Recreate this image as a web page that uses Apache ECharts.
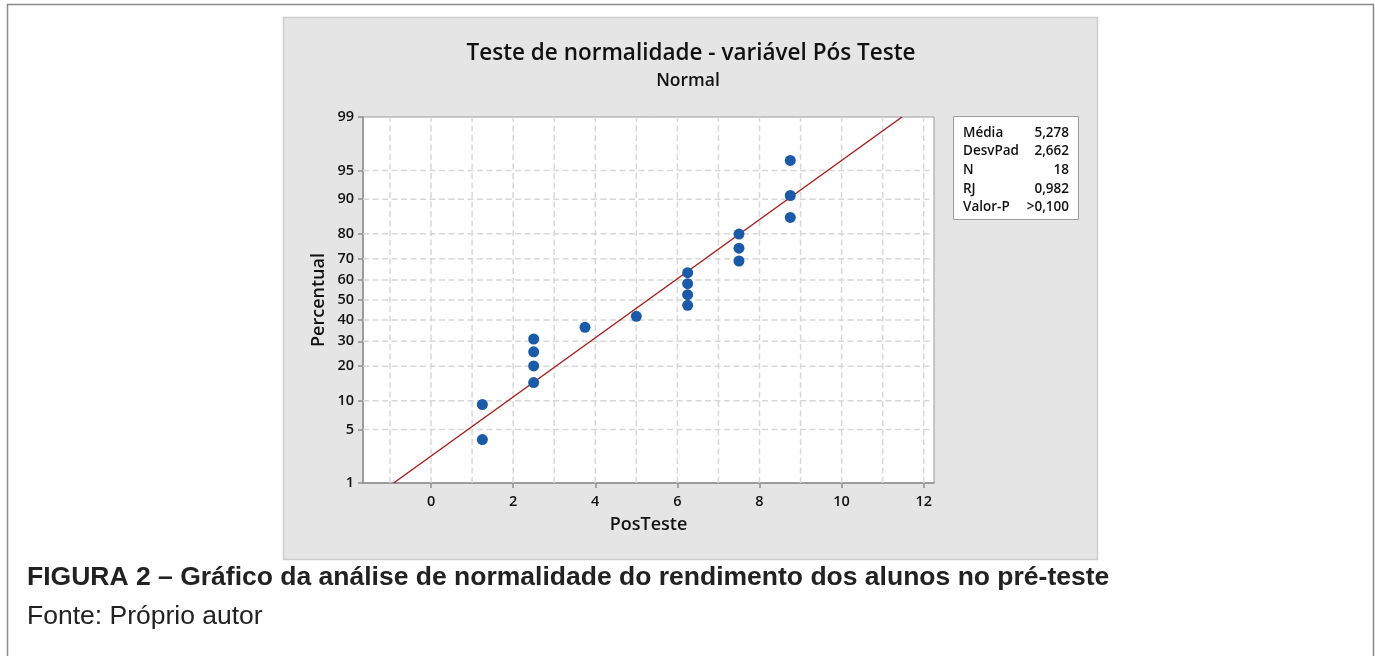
<!DOCTYPE html>
<html>
<head>
<meta charset="utf-8">
<script src="https://cdn.jsdelivr.net/npm/echarts@6/dist/echarts.min.js"></script>
<style>
  html, body { margin: 0; padding: 0; background: #fff; }
  #chart { width: 1375px; height: 656px; }
</style>
</head>
<body>
<div id="chart"></div>
<script>
// data
const posTeste = [1.25, 1.25, 2.5, 2.5, 2.5, 2.5, 3.75, 5, 6.25, 6.25, 6.25, 6.25, 7.5, 7.5, 7.5, 8.75, 8.75, 8.75]
const percentual = [3.8, 9.2, 14.7, 20.1, 25.5, 31.0, 36.4, 41.8, 47.3, 52.7, 58.2, 63.6, 69.0, 74.5, 79.9, 85.3, 90.8, 96.2]

// fitted line ends
const fitX = [-0.91, 11.47]
const fitPct = [1, 99]

// axis ticks
const pctTicks = [1, 5, 10, 20, 30, 40, 50, 60, 70, 80, 90, 95, 99]
const xTicks = [0, 2, 4, 6, 8, 10, 12]
const xGrid = [-1, 0, 1, 2, 3, 4, 5, 6, 7, 8, 9, 10, 11, 12]

const statNames = ['Média', 'DesvPad', 'N', 'RJ', 'Valor-P']
const statValues = ['5,278', '2,662', '18', '0,982', '>0,100']

// inverse normal cdf (Acklam) -> probability scale
function probit(p) {
  const a = [-39.69683028665376, 220.9460984245205, -275.9285104469687, 138.3577518672690, -30.66479806614716, 2.506628277459239]
  const b = [-54.47609879822406, 161.5858368580409, -155.6989798598866, 66.80131188771972, -13.28068155288572]
  const c = [-0.007784894002430293, -0.3223964580411365, -2.400758277161838, -2.549732539343734, 4.374664141464968, 2.938163982698783]
  const d = [0.007784695709041462, 0.3224671290700398, 2.445134137142996, 3.754408661907416]
  const pl = 0.02425
  let q, r
  if (p < pl) {
    q = Math.sqrt(-2 * Math.log(p))
    return (((((c[0] * q + c[1]) * q + c[2]) * q + c[3]) * q + c[4]) * q + c[5]) / ((((d[0] * q + d[1]) * q + d[2]) * q + d[3]) * q + 1)
  }
  if (p > 1 - pl) {
    q = Math.sqrt(-2 * Math.log(1 - p))
    return -(((((c[0] * q + c[1]) * q + c[2]) * q + c[3]) * q + c[4]) * q + c[5]) / ((((d[0] * q + d[1]) * q + d[2]) * q + d[3]) * q + 1)
  }
  q = p - 0.5
  r = q * q
  return (((((a[0] * r + a[1]) * r + a[2]) * r + a[3]) * r + a[4]) * r + a[5]) * q / (((((b[0] * r + b[1]) * r + b[2]) * r + b[3]) * r + b[4]) * r + 1)
}
const z = pct => probit(pct / 100)

const FONT = '"Open Sans", "DejaVu Sans", sans-serif'
const CAPTION_FONT = '"Liberation Sans", Arial, sans-serif'
const yMin = z(1), yMax = z(99)

// grid lines: [x, y, kind]  kind 0 = vertical, 1 = horizontal
const gridData = [
  ...xGrid.map(v => [v, 0, 0]),
  ...pctTicks.slice(1, -1).map(p => [0, z(p), 1]),
]

const statGraphics = []
statNames.forEach((n, i) => {
  const y = 133 + i * 18.6
  statGraphics.push({ type: 'text', z: 6, x: 963, y: y, style: { text: n, font: '600 13.5px ' + FONT, fill: '#111', verticalAlign: 'middle' } })
  statGraphics.push({ type: 'text', z: 6, x: 1069, y: y, style: { text: statValues[i], font: '600 13.5px ' + FONT, fill: '#111', align: 'right', verticalAlign: 'middle' } })
})

const chart = echarts.init(document.getElementById('chart'))
chart.setOption({
  animation: false,
  textStyle: { fontFamily: FONT },
  graphic: [
    { type: 'rect', z: -10, shape: { x: 7.5, y: 4.5, width: 1366, height: 700 }, style: { fill: '#fff', stroke: '#8a8a8a', lineWidth: 1.5 } },
    { type: 'rect', z: -9, shape: { x: 283.5, y: 17.5, width: 814, height: 542 }, style: { fill: '#e4e5e4', stroke: '#cdcdcd', lineWidth: 1.5 } },
    { type: 'text', z: 5, x: 691, y: 54, style: { text: 'Teste de normalidade - variável Pós Teste', font: '600 22.5px ' + FONT, fill: '#111', align: 'center', verticalAlign: 'middle' } },
    { type: 'text', z: 5, x: 688, y: 81, style: { text: 'Normal', font: '600 17.5px ' + FONT, fill: '#111', align: 'center', verticalAlign: 'middle' } },
    { type: 'rect', z: 5, shape: { x: 953.5, y: 116.5, width: 125, height: 103 }, style: { fill: '#fff', stroke: '#9a9a9a', lineWidth: 1 } },
    ...statGraphics,
    { type: 'text', z: 5, x: 27, y: 578, style: { text: 'FIGURA 2 – Gráfico da análise de normalidade do rendimento dos alunos no pré-teste', font: 'bold 26.5px ' + CAPTION_FONT, fill: '#222', verticalAlign: 'middle' } },
    { type: 'text', z: 5, x: 27, y: 617, style: { text: 'Fonte: Próprio autor', font: '26.5px ' + CAPTION_FONT, fill: '#222', verticalAlign: 'middle' } },
  ],
  grid: { left: 363, top: 117, width: 571, height: 366, show: true, backgroundColor: '#fff', borderColor: '#9a9a9a', borderWidth: 1 },
  xAxis: {
    type: 'value', min: -1.657, max: 12.25,
    name: 'PosTeste', nameLocation: 'middle', nameGap: 33,
    nameTextStyle: { fontSize: 18, fontWeight: 600, color: '#111' },
    axisLine: { show: true, onZero: false, lineStyle: { color: '#8f8f8f', width: 1.5 } },
    axisTick: { show: true, customValues: xTicks, length: 5, lineStyle: { color: '#8f8f8f', width: 1.5 } },
    axisLabel: { customValues: xTicks, fontSize: 14.5, fontWeight: 600, color: '#111', margin: 11 },
    splitLine: { show: false },
  },
  yAxis: {
    type: 'value', min: yMin, max: yMax,
    name: 'Percentual', nameLocation: 'middle', nameGap: 35,
    nameTextStyle: { fontSize: 18, fontWeight: 600, color: '#111' },
    axisLine: { show: true, onZero: false, lineStyle: { color: '#8f8f8f', width: 1.5 } },
    axisTick: { show: true, customValues: pctTicks.map(z), length: 5, lineStyle: { color: '#8f8f8f', width: 1.5 } },
    axisLabel: {
      customValues: pctTicks.map(z), fontSize: 14.5, fontWeight: 600, color: '#111', margin: 9,
      formatter: v => {
        let best = pctTicks[0]
        pctTicks.forEach(p => { if (Math.abs(z(p) - v) < Math.abs(z(best) - v)) best = p })
        return String(best)
      },
    },
    splitLine: { show: false },
  },
  series: [
    {
      type: 'custom', silent: true, z: 1,
      data: gridData,
      renderItem: (params, api) => {
        const kind = api.value(2)
        const a = kind === 0 ? api.coord([api.value(0), yMin]) : api.coord([-1.657, api.value(1)])
        const b = kind === 0 ? api.coord([api.value(0), yMax]) : api.coord([12.25, api.value(1)])
        return {
          type: 'line',
          shape: { x1: a[0], y1: a[1], x2: b[0], y2: b[1] },
          style: { stroke: '#d8d8d8', lineWidth: 1.5, lineDash: [6, 3.5] },
        }
      },
    },
    {
      type: 'line', symbol: 'none', z: 3, silent: true,
      data: fitX.map((x, i) => [x, z(fitPct[i])]),
      lineStyle: { color: '#a3201f', width: 1.5 },
    },
    {
      type: 'scatter', z: 4, symbolSize: 11,
      data: posTeste.map((x, i) => [x, z(percentual[i])]),
      itemStyle: { color: '#1b5aa6', opacity: 1 },
    },
  ],
})
</script>
</body>
</html>
